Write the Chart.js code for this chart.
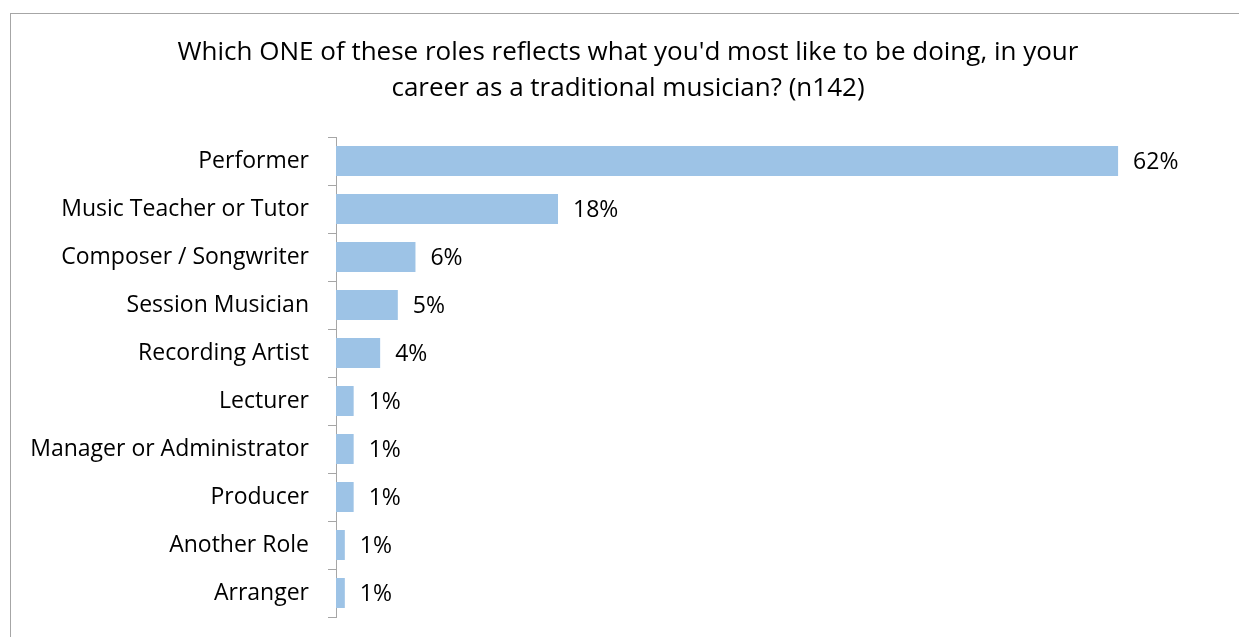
<!DOCTYPE html>
<html>
<head>
<meta charset="utf-8">
<title>Preferred career role</title>
<script src="https://cdn.jsdelivr.net/npm/chart.js@4"></script>
<style>
  html, body { margin: 0; padding: 0; background: #fff; overflow: hidden; }
  #wrap { position: relative; width: 1239px; height: 637px; }
  #frame {
    position: absolute; left: 10px; top: 13px; width: 1240px; height: 640px;
    border: 1px solid #a6a6a6; box-sizing: border-box; pointer-events: none;
  }
  canvas { position: absolute; left: 0; top: 0; }
</style>
</head>
<body>
<div id="wrap">
  <div id="frame"></div>
  <canvas id="roleChart" width="1239" height="637"></canvas>
</div>
<script>
// Survey answers, share of respondents (n = 142)
const roles = [
  'Performer',
  'Music Teacher or Tutor',
  'Composer / Songwriter',
  'Session Musician',
  'Recording Artist',
  'Lecturer',
  'Manager or Administrator',
  'Producer',
  'Another Role',
  'Arranger'
];
const shares = [62.0, 17.6, 6.3, 4.9, 3.5, 1.4, 1.4, 1.4, 0.7, 0.7];
const titleLines = [
  "Which ONE of these roles reflects what you'd most like to be doing, in your",
  'career as a traditional musician? (n142)'
];

const FONT = '"Open Sans", sans-serif';

// two-line heading, centred on the framed box rather than the plot
const heading = {
  id: 'heading',
  afterDraw(chart) {
    const ctx = chart.ctx;
    ctx.save();
    ctx.font = '26px ' + FONT;
    ctx.fillStyle = '#000';
    ctx.textAlign = 'center';
    ctx.textBaseline = 'middle';
    titleLines.forEach((line, i) => ctx.fillText(line, 628, 53 + i * 36));
    ctx.restore();
  }
};

// percentage labels to the right of each bar
const valueLabels = {
  id: 'valueLabels',
  afterDatasetsDraw(chart) {
    const ctx = chart.ctx;
    const meta = chart.getDatasetMeta(0);
    ctx.save();
    ctx.font = '23px ' + FONT;
    ctx.fillStyle = '#000';
    ctx.textAlign = 'left';
    ctx.textBaseline = 'middle';
    meta.data.forEach((bar, i) => {
      const v = chart.data.datasets[0].data[i];
      ctx.fillText(Math.round(v) + '%', bar.x + 15, bar.y + 1);
    });
    ctx.restore();
  }
};

new Chart(document.getElementById('roleChart'), {
  type: 'bar',
  data: {
    labels: roles,
    datasets: [{
      data: shares,
      backgroundColor: '#9dc3e6',
      borderWidth: 0,
      categoryPercentage: 0.78,
      barPercentage: 0.8
    }]
  },
  options: {
    indexAxis: 'y',
    responsive: false,
    animation: false,
    layout: { padding: { left: 0, right: 20, top: 137, bottom: 20 } },
    plugins: {
      legend: { display: false },
      tooltip: { enabled: false },
      title: { display: false }
    },
    scales: {
      x: { display: false, min: 0, max: 70 },
      y: {
        afterFit(scale) {
          // fixed gutter for the role names, no extra room above/below
          scale.width = 336;
          scale.paddingTop = 0;
          scale.paddingBottom = 0;
        },
        border: { display: true, color: '#a6a6a6', width: 1 },
        grid: {
          offset: true,
          drawOnChartArea: false,
          drawTicks: true,
          tickLength: 8,
          color: '#a6a6a6'
        },
        ticks: {
          color: '#000',
          padding: 19,
          font: { family: FONT, size: 23 }
        }
      }
    }
  },
  plugins: [valueLabels, heading]
});
</script>
</body>
</html>
